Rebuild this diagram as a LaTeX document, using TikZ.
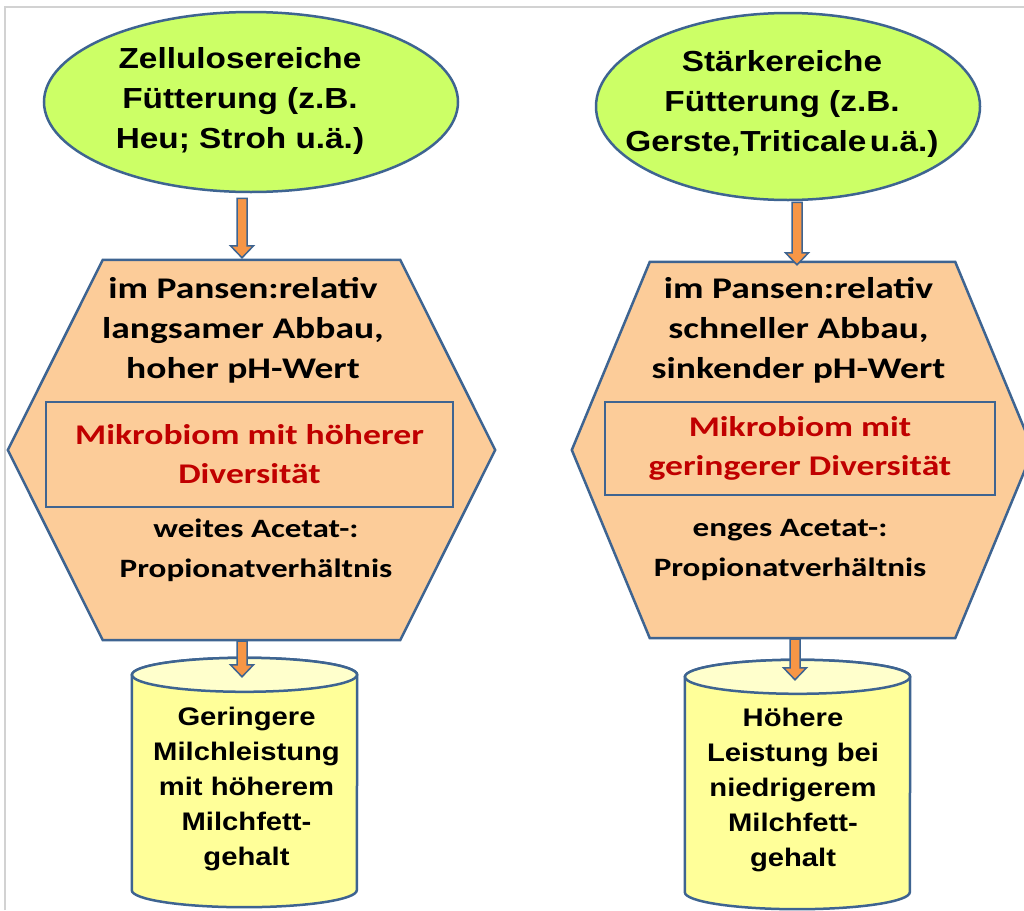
\documentclass[tikz,border=0pt]{standalone}
\usepackage{fontspec}
\usetikzlibrary{shapes.geometric,calc}
\newfontfamily\arialf[FakeStretch=1.15]{Liberation Sans}
\newfontfamily\calf[FakeStretch=1.25]{Carlito}
\definecolor{feedgreen}{RGB}{204,255,102}
\definecolor{bordblue}{RGB}{62,100,145}
\definecolor{hexorange}{RGB}{252,204,153}
\definecolor{cylyellow}{RGB}{255,255,153}
\definecolor{cyltop}{RGB}{255,255,204}
\definecolor{arroworange}{RGB}{247,150,70}
\definecolor{redtxt}{RGB}{192,0,0}
\definecolor{framegray}{RGB}{210,210,210}
\newcommand\blkarrow[2]{%
  \draw[blockarrow] let \p1=(#1), \p2=(#2) in
    (\x1-5pt,\y1) -- (\x1-5pt,\y2+12pt) -- (\x1-11.5pt,\y2+12pt) -- (\x1,\y2)
    -- (\x1+11.5pt,\y2+12pt) -- (\x1+5pt,\y2+12pt) -- (\x1+5pt,\y1) -- cycle;}
\begin{document}
\begin{tikzpicture}[x=1pt,y=-1pt,
  feed/.style={ellipse, draw=bordblue, line width=2.5pt, fill=feedgreen, inner sep=0pt},
  hexbox/.style={rectangle, inner sep=0pt},
  hexshape/.style={draw=bordblue, line width=2.5pt, fill=hexorange, line join=miter},
  innerbox/.style={rectangle, draw=bordblue, line width=2.5pt, fill=hexorange, inner sep=0pt,
    align=center, text=redtxt, font=\calf\bfseries\fontsize{28.5}{39}\selectfont},
  cylbox/.style={rectangle, inner sep=0pt, minimum width=225pt, minimum height=215pt},
  cylshape/.style={draw=bordblue, line width=2.5pt, fill=cylyellow},
  cyltopshape/.style={draw=bordblue, line width=2.5pt, fill=cyltop},
  feedtxt/.style={align=center, font=\arialf\bfseries\fontsize{29}{40}\selectfont},
  hextxt/.style={align=center, font=\calf\bfseries\fontsize{30}{40}\selectfont},
  ratiotxt/.style={align=center, font=\calf\bfseries\fontsize{26.5}{40}\selectfont},
  cyltxt/.style={align=center, font=\arialf\bfseries\fontsize{25.4}{35}\selectfont},
  blockarrow/.style={draw=bordblue, line width=1.5pt, fill=arroworange, line join=miter}
]
\useasboundingbox (0,0) rectangle (1024,910);
\clip (0,0) rectangle (1024,910);
\fill[white] (0,0) rectangle (1024,910);
\draw[framegray, line width=1.5pt] (5,910) -- (5,7) -- (1024,7);

% feed ellipses
\node[feed, minimum width=414pt, minimum height=180pt] (eL) at (251,102) {};
\node[feedtxt] (eLt) at (240,101) {Zellulosereiche\\Fütterung (z.B.\\Heu; Stroh u.ä.)};
\node[feed, minimum width=384pt, minimum height=187pt] (eR) at (788,106.5) {};
\node[feedtxt] (eRt) at (782,104) {Stärkereiche\\Fütterung (z.B.\\Gerste,Triticale\hspace{0.12em}u.ä.)};

% hexagons
\node[hexbox, minimum width=487pt, minimum height=380pt] (hexL) at (251.5,450) {};
\draw[hexshape] (hexL.west) -- ([xshift=95pt]hexL.north west) -- ([xshift=-95pt]hexL.north east)
  -- (hexL.east) -- ([xshift=-95pt]hexL.south east) -- ([xshift=95pt]hexL.south west) -- cycle;
\node[hexbox, minimum width=461pt, minimum height=376pt] (hexR) at (802.5,450) {};
\draw[hexshape] (hexR.west) -- ([xshift=78pt]hexR.north west) -- ([xshift=-78pt]hexR.north east)
  -- (hexR.east) -- ([xshift=-78pt]hexR.south east) -- ([xshift=78pt]hexR.south west) -- cycle;

\node[hextxt] (hLt) at (243,330) {im Pansen:relativ\\langsamer Abbau,\\hoher pH-Wert};
\node[hextxt] (hRt) at (798.5,330) {im Pansen:relativ\\schneller Abbau,\\sinkender pH-Wert};

\node[innerbox, minimum width=407pt, minimum height=105pt] (mL) at (249.5,454.5)
  {Mikrobiom mit höherer\\Diversität};
\node[innerbox, minimum width=390pt, minimum height=93pt] (mR) at (800,448.5)
  {Mikrobiom mit\\geringerer Diversität};

\node[ratiotxt] (rL) at (256,550) {weites Acetat-:\\Propionatverhältnis};
\node[ratiotxt] (rR) at (790,550) {enges Acetat-:\\Propionatverhältnis};

% cylinders
\node[cylbox] (cylL) at (244.5,782.5) {};
\draw[cylshape] (cylL.north west) -- (cylL.south west)
  arc[start angle=180, end angle=360, x radius=112.5pt, y radius=17pt]
  -- (cylL.north east) arc[start angle=0, end angle=180, x radius=112.5pt, y radius=17pt] -- cycle;
\draw[cyltopshape] (cylL.north) ellipse[x radius=112.5pt, y radius=17pt];
\node[cyltxt] (cLt) at (246.5,789) {Geringere\\Milchleistung\\mit höherem\\Milchfett-\\gehalt};

\node[cylbox] (cylR) at (797.5,784.5) {};
\draw[cylshape] (cylR.north west) -- (cylR.south west)
  arc[start angle=180, end angle=360, x radius=112.5pt, y radius=17pt]
  -- (cylR.north east) arc[start angle=0, end angle=180, x radius=112.5pt, y radius=17pt] -- cycle;
\draw[cyltopshape] (cylR.north) ellipse[x radius=112.5pt, y radius=17pt];
\node[cyltxt] (cRt) at (793,790) {Höhere\\Leistung bei\\niedrigerem\\Milchfett-\\gehalt};

% arrows
\blkarrow{$(eL.south)+(-9,5)$}{$(hexL.north)+(-9.5,-2)$}
\blkarrow{$(eR.south)+(9,1)$}{$(hexR.north)+(-5.5,3)$}
\blkarrow{$(hexL.south)+(-9.5,1)$}{$(cylL.north)+(-2.5,2)$}
\blkarrow{$(hexR.south)+(-7.5,1)$}{$(cylR.north)+(-2.5,3)$}
\end{tikzpicture}
\end{document}
